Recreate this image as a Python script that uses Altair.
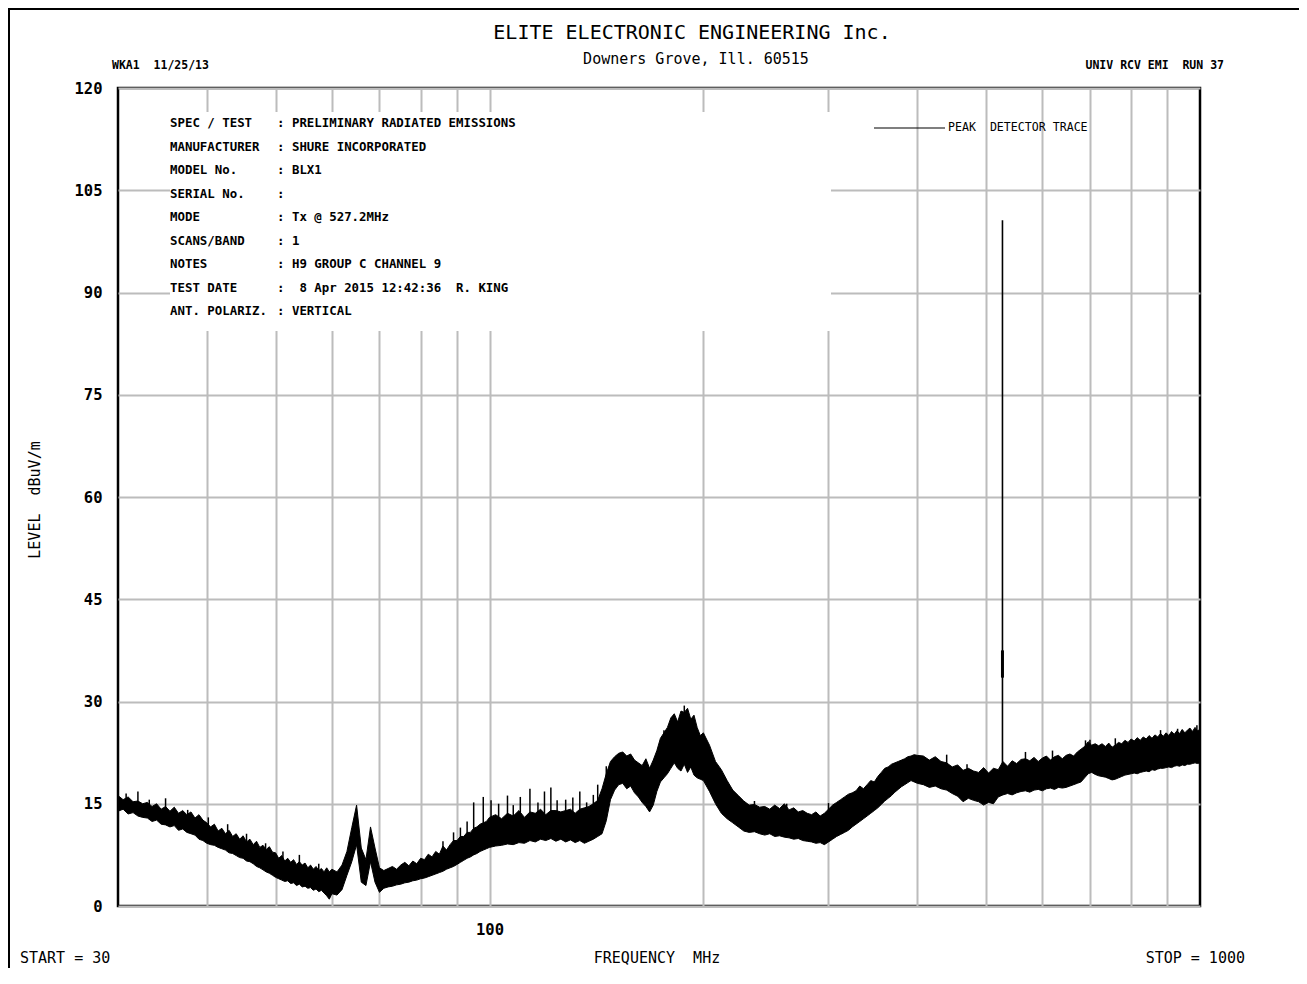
import altair as alt
import pandas as pd

# ---------------- trace data (frequency MHz, lower / upper envelope dBuV/m) -------------
freq_a = [30, 30.5, 31, 31.5, 32, 32.5, 33, 33.5, 34, 34.5, 35, 35.5, 36, 36.5, 37, 37.5, 38, 38.5, 39, 39.5, 40,
          40.5, 41, 41.5, 42, 42.5, 43, 43.5, 44, 44.5, 45, 45.5, 46, 46.5, 47, 47.5, 48, 48.5, 49, 49.5, 50,
          50.5, 51, 51.5, 52, 52.5, 53, 53.5, 54, 54.5, 55, 55.5, 56, 56.5, 57, 57.5, 58, 58.5, 59, 59.5, 60]
hi_a = [16.2, 15.6, 16.0, 15.3, 15.4, 15.0, 15.2, 14.6, 15.0, 14.2, 14.6, 13.9, 14.5, 13.6, 14.0, 13.4, 13.8, 12.9, 13.4, 12.6, 12.2,
        11.6, 12.0, 11.0, 11.4, 10.6, 11.1, 10.2, 10.6, 9.8, 10.3, 9.4, 9.8, 9.0, 9.5, 8.6, 8.9, 8.3, 8.7, 7.9, 7.8,
        7.0, 7.4, 6.6, 7.0, 6.4, 6.8, 6.1, 6.5, 6.0, 6.3, 5.6, 6.0, 5.4, 5.8, 5.2, 5.5, 5.0, 5.6, 5.0, 5.4]
lo_a = [13.9, 14.2, 13.5, 13.7, 13.2, 13.0, 12.9, 12.4, 12.6, 12.0, 11.9, 11.6, 11.8, 11.1, 11.3, 10.8, 10.6, 10.4, 9.8, 9.6, 9.2,
        9.0, 8.9, 8.6, 8.4, 8.2, 7.8, 7.7, 7.4, 7.1, 7.0, 6.6, 6.5, 6.2, 5.8, 5.6, 5.3, 5.0, 4.8, 4.5, 4.2,
        4.0, 3.8, 3.6, 3.7, 3.3, 3.4, 3.0, 3.2, 2.8, 2.9, 2.6, 2.7, 2.3, 2.5, 2.1, 2.3, 1.9, 1.5, 1.0, 1.8]

freq_b = [61, 62, 63, 64, 65, 66, 67, 68, 69, 70, 71, 72, 73, 74, 75, 76, 77, 78, 79, 80,
          81, 82, 83, 84, 85, 86, 87, 88, 89, 90, 91, 92, 93, 94, 95, 96, 97, 98, 99, 100]
hi_b = [5.0, 6.0, 8.0, 11.5, 14.8, 8.5, 6.8, 11.6, 8.5, 5.6, 5.2, 5.5, 5.8, 5.4, 6.0, 6.4, 5.9, 6.6, 6.2, 7.0,
        6.8, 7.6, 7.2, 8.0, 7.6, 8.8, 8.2, 9.0, 9.6, 9.6, 10.2, 10.2, 10.8, 10.8, 11.4, 11.6, 12.0, 12.2, 12.4, 13.0]
lo_b = [1.6, 2.4, 4.5, 6.5, 9.0, 3.5, 3.0, 6.5, 3.5, 2.0, 2.6, 2.8, 2.9, 3.1, 3.2, 3.4, 3.5, 3.7, 3.8, 4.0,
        4.1, 4.3, 4.5, 4.7, 4.9, 5.1, 5.4, 5.6, 5.8, 6.1, 6.4, 6.7, 7.0, 7.2, 7.5, 7.7, 8.0, 8.2, 8.4, 8.6]

freq_c = [102, 104, 106, 108, 110, 112, 114, 116, 118, 120, 122, 124, 126, 128, 130, 132, 134, 136, 138, 140,
          142, 144, 146, 148, 150, 152, 154, 156, 158, 160, 162, 164, 166, 168, 170, 172, 174, 176, 178, 180,
          182, 184, 186, 188, 190, 192, 194, 196, 198, 200]
hi_c = [13.4, 12.8, 13.6, 13.2, 14.0, 13.0, 13.8, 13.6, 14.2, 13.4, 14.0, 14.0, 13.8, 14.0, 14.2, 13.6, 14.2, 14.4, 14.6, 15.0,
        15.5, 17.2, 19.4, 21.2, 21.9, 22.4, 22.6, 22.0, 22.3, 21.4, 21.0, 20.6, 21.6, 20.2, 21.4, 22.8, 24.6, 25.4, 26.2, 27.6,
        28.2, 27.0, 28.6, 28.4, 29.0, 27.4, 28.0, 26.2, 25.0, 25.4]
lo_c = [8.8, 8.9, 9.1, 9.0, 9.3, 9.2, 9.6, 9.4, 9.8, 9.6, 9.9, 9.5, 9.8, 9.4, 9.7, 9.3, 9.6, 9.2, 9.5, 9.8,
        10.2, 10.6, 12.5, 15.6, 17.0, 17.8, 18.0, 17.2, 17.6, 16.6, 16.0, 15.2, 14.6, 13.8, 14.8, 16.8, 18.2, 18.8, 19.4, 20.2,
        21.0, 20.2, 19.8, 20.8, 19.6, 20.4, 19.2, 18.8, 18.6, 18.4]

freq_d = [204, 208, 212, 216, 220, 224, 228, 232, 236, 240, 244, 248, 252, 256, 260, 264, 268, 272, 276, 280,
          284, 288, 292, 296, 300, 304, 308, 312, 316, 320, 324, 328, 332, 336, 340, 344, 348, 352, 356, 360,
          364, 368, 372, 376, 380, 384, 388, 392, 396, 400]
hi_d = [23.6, 21.2, 20.0, 18.4, 17.0, 16.2, 15.4, 14.8, 14.9, 14.5, 14.6, 14.2, 14.8, 14.3, 15.0, 14.1, 14.4, 13.8, 14.0, 13.6,
        13.4, 13.8, 13.2, 13.6, 14.2, 14.8, 15.2, 15.6, 16.0, 16.4, 16.6, 16.9, 17.6, 17.2, 17.8, 18.4, 18.2, 19.0, 19.6, 20.2,
        20.4, 20.8, 21.0, 21.2, 21.4, 21.6, 21.9, 22.0, 22.2, 22.1]
lo_d = [16.8, 15.0, 13.6, 12.8, 12.2, 11.6, 11.0, 10.8, 10.9, 10.6, 10.4, 10.6, 10.2, 10.3, 10.1, 10.0, 9.8, 9.9, 9.6, 9.5,
        9.4, 9.2, 9.3, 9.0, 9.4, 9.8, 10.2, 10.5, 10.8, 11.1, 11.6, 12.0, 12.4, 12.8, 13.2, 13.6, 14.0, 14.4, 14.9, 15.4,
        15.8, 16.2, 16.7, 17.1, 17.5, 17.8, 18.1, 18.4, 18.2, 18.0]

freq_e = [408, 416, 424, 432, 440, 448, 456, 464, 472, 480, 488, 496, 504, 512, 520, 528, 536, 544, 552, 560,
          568, 576, 584, 592, 600, 608, 616, 624, 632, 640, 648, 656, 664, 672, 680, 688, 696, 704, 712, 720,
          728, 736, 744, 752, 760, 768, 776, 784, 792, 800, 808, 816, 824, 832, 840, 848, 856, 864, 872, 880,
          888, 896, 904, 912, 920, 928, 936, 944, 952, 960, 968, 976, 984, 992, 1000]
hi_e = [22.0, 21.4, 21.9, 21.2, 21.0, 20.4, 20.7, 19.9, 20.2, 19.8, 19.6, 20.3, 19.5, 20.2, 20.0, 21.2, 20.5, 21.3, 20.9, 21.5,
        21.6, 21.3, 21.8, 21.2, 21.7, 22.0, 21.4, 21.9, 22.1, 21.6, 22.1, 22.3, 22.0, 22.6, 23.0, 23.4, 24.1, 23.6, 23.8, 23.5,
        23.8, 23.4, 23.9, 23.3, 23.6, 24.0, 23.8, 24.3, 24.0, 24.5, 24.2, 24.7, 24.3, 24.8, 24.5, 25.0, 24.6, 25.1, 24.8, 25.3,
        24.9, 25.4, 25.0, 25.6, 25.2, 25.7, 25.3, 25.9, 25.4, 25.8, 26.1, 25.6, 26.2, 25.7, 25.9]
lo_e = [17.8, 17.4, 17.6, 17.2, 17.0, 16.5, 16.1, 15.3, 15.8, 15.5, 15.3, 14.8, 15.2, 15.0, 16.0, 16.3, 16.5, 16.3, 16.6, 16.8,
        16.9, 16.7, 17.0, 17.1, 16.9, 17.2, 17.3, 17.1, 17.4, 17.3, 17.4, 17.6, 17.8, 18.0, 18.2, 18.8, 19.4, 19.6, 19.3, 19.1,
        19.0, 18.9, 18.7, 18.5, 18.6, 18.8, 19.0, 19.2, 19.3, 19.4, 19.5, 19.4, 19.6, 19.7, 19.8, 19.7, 20.0, 19.9, 20.1, 20.2,
        20.2, 20.3, 20.4, 20.3, 20.5, 20.6, 20.5, 20.7, 20.6, 20.8, 20.8, 20.9, 21.0, 20.9, 21.0]

# isolated noise spikes rising out of the trace (frequency MHz, from / to dBuV/m)
noise_freq = [30.8, 32, 33.2, 35, 37.6, 40.2, 42.8, 45.5, 48.4, 51.2, 54, 57.5,
              86, 89, 91, 93, 95, 98, 100.5, 103, 106, 108, 110.5, 114, 117, 119.5, 122, 124.5, 128,
              131, 134, 137, 140, 142, 146, 176, 188,
              236, 262, 300, 440, 470, 568, 620, 690, 700, 760, 880, 930, 990]
noise_from = [14.0, 14.0, 13.0, 12.0, 11.0, 10.0, 8.5, 7.5, 6.0, 4.5, 4.0, 3.0,
              5.5, 6.0, 7.0, 7.5, 8.0, 8.5, 9.0, 9.0, 9.5, 9.5, 9.5, 10.0, 10.0, 10.0, 10.0, 10.0, 10.0,
              10.0, 10.0, 10.0, 10.0, 11.0, 13.0, 20.0, 21.0,
              11.0, 10.5, 9.5, 17.0, 17.0, 18.0, 18.0, 20.0, 20.0, 19.0, 20.5, 21.0, 21.0]
noise_to = [16.5, 16.8, 15.6, 15.8, 14.1, 13.0, 12.0, 10.6, 9.2, 8.0, 7.5, 6.2,
            9.5, 10.8, 11.5, 12.4, 15.2, 16.0, 15.5, 15.0, 16.2, 14.8, 16.0, 17.2, 15.2, 16.8, 17.4, 15.5, 15.6,
            15.9, 16.8, 15.2, 16.3, 17.8, 20.5, 25.8, 29.4,
            15.4, 15.0, 15.1, 22.2, 20.8, 22.6, 22.8, 24.3, 24.4, 24.6, 25.8, 26.0, 26.5]

# transmitter carrier spike
spike_freq = [527.2]
spike_base = [17.0]
spike_top = [100.6]
spike_core_base = [33.5]
spike_core_top = [37.5]

grid_freqs = [40, 50, 60, 70, 80, 90, 100, 200, 300, 400, 500, 600, 700, 800, 900]
level_ticks = [0, 15, 30, 45, 60, 75, 90, 105, 120]

NB = "\u00a0"
info_labels = ["SPEC / TEST", "MANUFACTURER", "MODEL No.", "SERIAL No.", "MODE",
               "SCANS/BAND", "NOTES", "TEST DATE", "ANT. POLARIZ."]
info_values = [": PRELIMINARY RADIATED EMISSIONS", ": SHURE INCORPORATED", ": BLX1", ":",
               ": Tx @ 527.2MHz", ": 1", ": H9 GROUP C CHANNEL 9",
               ":" + NB + NB + "8 Apr 2015 12:42:36" + NB + NB + "R. KING", ": VERTICAL"]

# ---------------------------------------------------------------------------------------
freqs = freq_a + freq_b + freq_c + freq_d + freq_e
his = hi_a + hi_b + hi_c + hi_d + hi_e
los = lo_a + lo_b + lo_c + lo_d + lo_e
trace = pd.DataFrame({"freq": freqs, "lo": los, "hi": his})
noise = pd.DataFrame({"freq": noise_freq, "base": noise_from, "top": noise_to})
spike = pd.DataFrame({"freq": spike_freq, "base": spike_base, "top": spike_top,
                      "cbase": spike_core_base, "ctop": spike_core_top})
one = pd.DataFrame({"k": [0]})

W, H = 1082, 818
MONO = "DejaVu Sans Mono, Liberation Mono, monospace"
GRID = "#bcbcbc"

x_scale = alt.Scale(type="log", domain=[30, 1000], nice=False)
y_scale = alt.Scale(domain=[0, 120], nice=False, zero=False)
x_axis = alt.Axis(values=grid_freqs, labelExpr="datum.value == 100 ? '100' : ''",
                  grid=True, gridColor=GRID, gridWidth=2, gridOpacity=1, ticks=False, domain=False,
                  labelFont=MONO, labelFontWeight="bold", labelFontSize=15.5, labelColor="black",
                  labelPadding=16, title=None, labelFlush=False, labelOverlap=False)
y_axis = alt.Axis(values=level_ticks, grid=True, gridColor=GRID, gridWidth=2, gridOpacity=1,
                  ticks=False, domain=False, labelFont=MONO, labelFontWeight="bold",
                  labelFontSize=15.5, labelColor="black", labelPadding=16, title=None,
                  labelFlush=False, labelOverlap=False)


def X(field):
    return alt.X(field, type="quantitative", scale=x_scale, axis=x_axis)


def Y(field):
    return alt.Y(field, type="quantitative", scale=y_scale, axis=y_axis)


# white panel behind the test information block
panel = alt.Chart(one).mark_rect(color="white").encode(
    x=alt.value(52), x2=alt.value(713), y=alt.value(24), y2=alt.value(243))

band = alt.Chart(trace).mark_area(color="black", interpolate="linear", opacity=1).encode(
    x=X("freq"), y=Y("lo"), y2=alt.Y2("hi"))
top_line = alt.Chart(trace).mark_line(color="black", strokeWidth=1.0, interpolate="linear").encode(
    x=X("freq"), y=Y("hi"))
bottom_line = alt.Chart(trace).mark_line(color="black", strokeWidth=1.0, interpolate="linear").encode(
    x=X("freq"), y=Y("lo"))
noise_rules = alt.Chart(noise).mark_rule(color="black", strokeWidth=1.5).encode(
    x=X("freq"), y=Y("base"), y2=alt.Y2("top"))

spike_rule = alt.Chart(spike).mark_rule(color="black", strokeWidth=1.6).encode(
    x=X("freq"), y=Y("base"), y2=alt.Y2("top"))
spike_core = alt.Chart(spike).mark_rule(color="black", strokeWidth=3).encode(
    x=X("freq"), y=Y("cbase"), y2=alt.Y2("ctop"))


def label(text, x, y, size, align="left", weight="normal", angle=None, **kw):
    props = dict(text=text, align=align, baseline="middle", font=MONO, fontSize=size,
                 fontWeight=weight, color="black")
    if angle is not None:
        props["angle"] = angle
    props.update(kw)
    return alt.Chart(one).mark_text(**props).encode(x=alt.value(x), y=alt.value(y))


texts = [
    label("ELITE ELECTRONIC ENGINEERING Inc.", 574, -55, 20, align="center"),
    label("Downers Grove, Ill. 60515", 578, -29, 15, align="center"),
    label("WKA1" + NB + NB + "11/25/13", -6, -22, 11.5, weight="bold"),
    label("UNIV RCV EMI" + NB + NB + "RUN 37", 1106, -22, 11.5, align="right", weight="bold"),
    label("LEVEL" + NB + NB + "dBuV/m", -83, 412, 15, align="center", angle=270),
    label("START = 30", -98, 870, 15),
    label("FREQUENCY" + NB + NB + "MHz", 539, 870, 15, align="center"),
    label("STOP = 1000", 1127, 870, 15, align="right"),
    label(info_labels, 52, 35, 12.4, weight="bold", lineHeight=23.5),
    label(info_values, 159, 35, 12.4, weight="bold", lineHeight=23.5),
    label("PEAK" + NB + NB + "DETECTOR TRACE", 830, 40, 11.6),
]

legend_line = alt.Chart(one).mark_rule(color="black", strokeWidth=1.2).encode(
    x=alt.value(756), x2=alt.value(827), y=alt.value(40))

frame_top = alt.Chart(one).mark_rule(color="black", strokeWidth=2).encode(
    x=alt.value(-110), x2=alt.value(1181), y=alt.value(-79))
frame_left = alt.Chart(one).mark_rule(color="black", strokeWidth=2).encode(
    x=alt.value(-109), y=alt.value(-80), y2=alt.value(880))

chart = alt.layer(
    band, panel, top_line, bottom_line, noise_rules, spike_rule, spike_core, legend_line,
    frame_top, frame_left, *texts
).properties(
    width=W, height=H,
    autosize=alt.AutoSizeParams(type="none"),
    padding={"left": 110, "top": 80, "right": 99, "bottom": 70},
    background="white",
).configure_view(stroke="black", strokeWidth=2.5)

chart.save("out.html", embed_options={"renderer": "svg", "actions": False})
